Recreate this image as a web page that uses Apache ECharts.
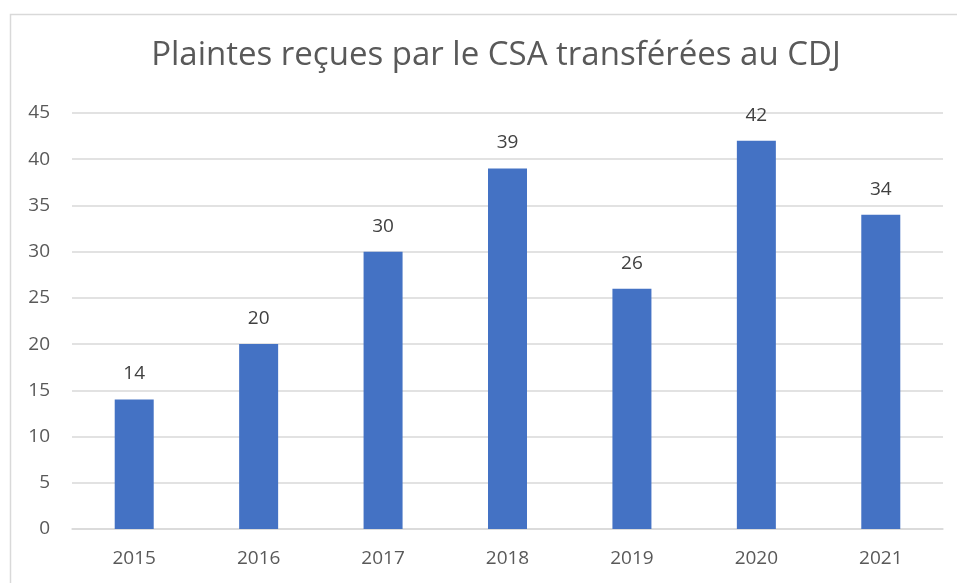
<!DOCTYPE html>
<html>
<head>
<meta charset="utf-8">
<script src="https://cdn.jsdelivr.net/npm/echarts@6/dist/echarts.min.js"></script>
<style>
  html, body { margin: 0; padding: 0; background: #fff; }
  #chart { width: 957px; height: 583px; }
</style>
</head>
<body>
<div id="chart"></div>
<script>
// donnees
let years = ['2015', '2016', '2017', '2018', '2019', '2020', '2021'];
let plaintes = [14, 20, 30, 39, 26, 42, 34];
let yTicks = { min: 0, max: 45, interval: 5 };

let chart = echarts.init(document.getElementById('chart'));

let opt = {
  animation: false,
  backgroundColor: '#fff',
  graphic: [{
    type: 'rect',
    shape: { x: 10.5, y: 14.5, width: 960, height: 600 },
    style: { fill: 'none', stroke: '#d9d9d9', lineWidth: 1.5 }
  }],
  title: {
    text: 'Plaintes reçues par le CSA transférées au CDJ',
    left: 491,
    top: 34,
    textAlign: 'center',
    textStyle: {
      fontFamily: 'Open Sans',
      fontWeight: 'normal',
      fontSize: 33,
      color: '#595959'
    }
  },
  grid: {
    left: 72,
    right: 14,
    top: 113,
    bottom: 54
  },
  xAxis: {
    type: 'category',
    data: years,
    axisLine: { lineStyle: { color: '#d9d9d9', width: 1.5 } },
    axisTick: { show: false },
    axisLabel: {
      margin: 20,
      fontFamily: 'Open Sans',
      fontSize: 19,
      color: '#595959'
    }
  },
  yAxis: {
    type: 'value',
    min: yTicks.min,
    max: yTicks.max,
    interval: yTicks.interval,
    axisLine: { show: false },
    axisTick: { show: false },
    splitLine: { lineStyle: { color: '#d9d9d9', width: 1.5 } },
    axisLabel: {
      margin: 22,
      fontFamily: 'Open Sans',
      fontSize: 19,
      color: '#595959'
    }
  },
  series: [{
    type: 'bar',
    data: plaintes,
    barWidth: 39,
    itemStyle: { color: '#4472c4' },
    label: {
      show: true,
      position: 'top',
      distance: 16,
      fontFamily: 'Open Sans',
      fontSize: 19,
      color: '#404040'
    }
  }]
};
chart.setOption(opt);
</script>
</body>
</html>
